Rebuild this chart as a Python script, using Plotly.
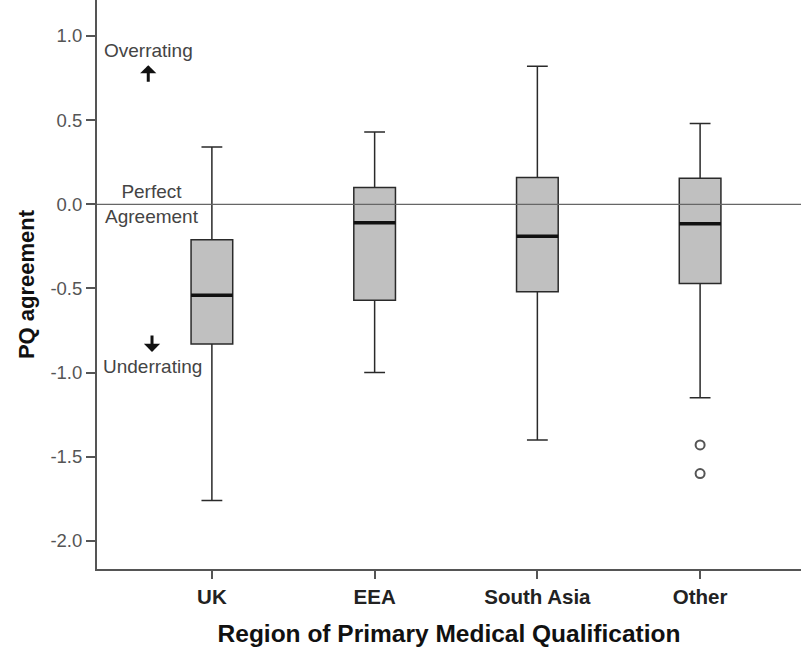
import plotly.graph_objects as go

categories = ["UK", "EEA", "South Asia", "Other"]
upper_whisker = [0.34, 0.43, 0.82, 0.48]
q3 = [-0.21, 0.10, 0.16, 0.155]
median = [-0.54, -0.11, -0.19, -0.115]
q1 = [-0.83, -0.57, -0.52, -0.47]
lower_whisker = [-1.76, -1.00, -1.40, -1.15]
outlier_cat = ["Other", "Other"]
outlier_vals = [-1.43, -1.60]
y_ticks = [-2.0, -1.5, -1.0, -0.5, 0.0, 0.5, 1.0]

pos = list(range(len(categories)))
box_w = 0.256
FONT = "Liberation Sans, Arial, sans-serif"

fig = go.Figure()
fig.add_trace(go.Box(
    x=pos, q1=q1, median=median, q3=q3,
    lowerfence=lower_whisker, upperfence=upper_whisker,
    width=box_w, whiskerwidth=0.5, boxpoints=False,
    fillcolor="#c0c0c0", line=dict(color="#2a2a2a", width=1.5),
    showlegend=False, hoverinfo="skip",
))

# thick median lines
mx, my = [], []
for p, m in zip(pos, median):
    mx += [p - box_w / 2, p + box_w / 2, None]
    my += [m, m, None]
fig.add_trace(go.Scatter(x=mx, y=my, mode="lines",
                         line=dict(color="#111111", width=3.5),
                         showlegend=False, hoverinfo="skip"))

# outliers
fig.add_trace(go.Scatter(
    x=[categories.index(c) for c in outlier_cat], y=outlier_vals,
    mode="markers",
    marker=dict(symbol="circle-open", size=9, color="#555555", line=dict(width=2, color="#555555")),
    showlegend=False, hoverinfo="skip"))

fig.add_shape(type="line", xref="paper", yref="y", x0=0, x1=1, y0=0, y1=0,
              line=dict(color="#666666", width=1.3))

ann_font = dict(family=FONT, size=19, color="#444444")
fig.add_annotation(x=-0.391, y=0.912, xref="x", yref="y", text="Overrating",
                   showarrow=False, font=ann_font)
fig.add_annotation(x=-0.391, y=0.827, xref="x", yref="y", text="", showarrow=True,
                   ax=0, ay=18, arrowhead=1, arrowsize=0.9, arrowwidth=3, arrowcolor="#111111")
fig.add_annotation(x=-0.366, y=0.0, xref="x", yref="y", text="Perfect<br>Agreement",
                   showarrow=False, font=ann_font, yanchor="middle")
fig.add_annotation(x=-0.368, y=-0.877, xref="x", yref="y", text="", showarrow=True,
                   ax=0, ay=-18, arrowhead=1, arrowsize=0.9, arrowwidth=3, arrowcolor="#111111")
fig.add_annotation(x=-0.363, y=-0.965, xref="x", yref="y", text="Underrating",
                   showarrow=False, font=ann_font)

fig.update_layout(
    width=801, height=649,
    margin=dict(l=97, r=0, t=0, b=80),
    plot_bgcolor="white", paper_bgcolor="white",
    font=dict(family=FONT, color="#333333"),
    xaxis=dict(
        range=[-0.706, 3.62], tickvals=pos, ticktext=categories,
        showline=True, linecolor="#555555", linewidth=2,
        ticks="outside", ticklen=8, tickcolor="#555555", tickwidth=1.5,
        showgrid=False, zeroline=False,
        tickfont=dict(family=FONT, size=20.5, color="#222222", weight="bold"),
        title=dict(text="Region of Primary Medical Qualification",
                   font=dict(family=FONT, size=24.5, color="#111111", weight="bold"), standoff=18),
    ),
    yaxis=dict(
        range=[-2.167, 1.214], tickvals=y_ticks, ticktext=[f"{v:.1f}" for v in y_ticks],
        showline=True, linecolor="#555555", linewidth=2,
        ticks="outside", ticklen=9, tickcolor="#555555", tickwidth=1.5,
        showgrid=False, zeroline=False,
        tickfont=dict(family=FONT, size=18.5, color="#555555"),
        title=dict(text="PQ agreement",
                   font=dict(family=FONT, size=22, color="#111111", weight="bold"), standoff=10),
    ),
)

fig.write_html("out.html", config={"displayModeBar": False},
               post_script="document.body.style.margin='0';")
